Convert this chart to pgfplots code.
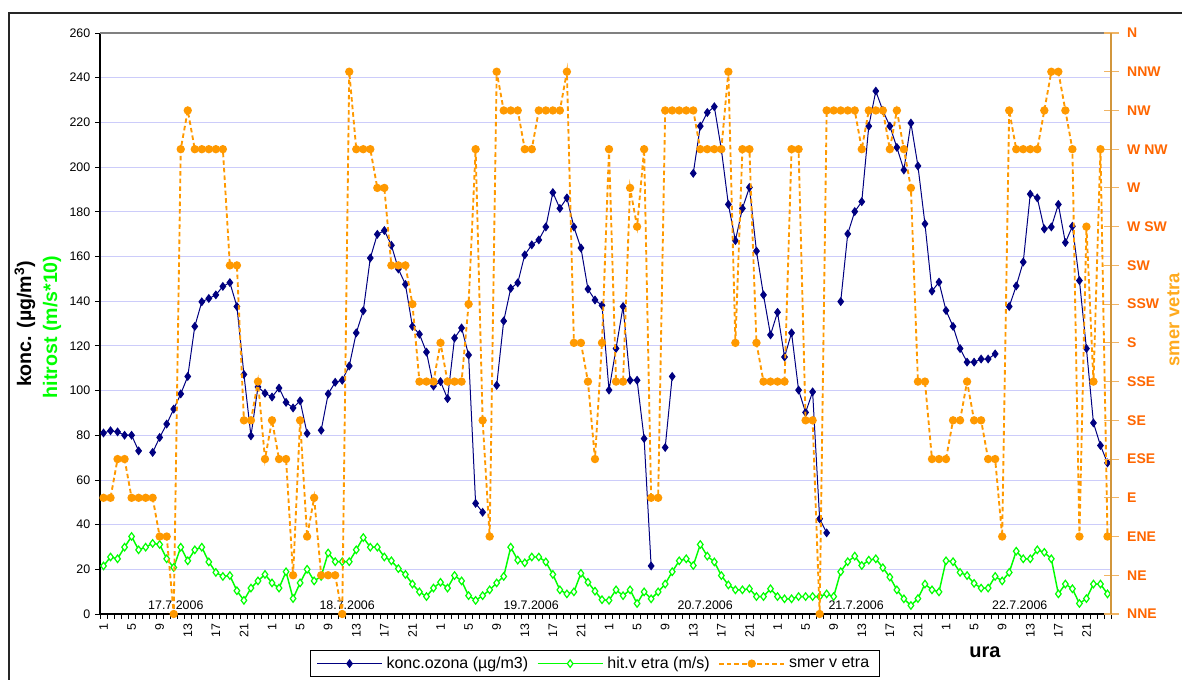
\documentclass[border=0pt]{standalone}
\usepackage{fontspec}
\setmainfont{Liberation Sans}
\usepackage{pgfplots}
\usepackage{pgfplotstable}
\pgfplotsset{compat=1.18}

\definecolor{ozblue}{RGB}{0,0,128}
\definecolor{vgreen}{RGB}{0,255,0}
\definecolor{dorange}{RGB}{255,153,0}
\definecolor{gridblue}{RGB}{204,204,250}
\definecolor{rightaxis}{RGB}{210,150,60}
\definecolor{ticklight}{RGB}{240,180,100}
\definecolor{dirlabel}{RGB}{255,102,0}
\definecolor{dirtitle}{RGB}{255,170,30}

\newcommand\ticksize{\fontsize{9.3}{11}\selectfont}

% hourly measurements 17.7.2006 - 22.7.2006
% i = hour index, oz = ozone (ug/m3), hv = wind speed (m/s*10),
% dir = wind direction (0 = NNE ... 15 = N)
\pgfplotstableread{
i oz hv dir
1 81 21.5 3
2 82 25.5 3
3 81.5 24.7 4
4 80 29.9 4
5 80 34.7 3
6 73 28.7 3
7 nan 29.9 3
8 72.3 31.6 3
9 79 31.1 2
10 85 24.7 2
11 91.7 20.8 0
12 98.5 29.9 12
13 106.3 23.8 13
14 128.7 28.7 12
15 139.7 29.9 12
16 141.2 23.3 12
17 142.8 18.6 12
18 146.6 16.8 12
19 148.3 17.2 9
20 137.6 10.4 9
21 107.2 6.1 5
22 79.7 11.6 5
23 101.6 14.8 6
24 98.8 17.7 4
25 97.1 13.9 5
26 101.1 11.6 4
27 94.7 18.9 4
28 92.2 6.9 1
29 95.4 13.9 5
30 80.8 20.0 2
31 nan 14.8 3
32 82.2 16.8 1
33 98.5 27.3 1
34 103.7 23.4 1
35 104.6 23.4 0
36 111.0 23.4 14
37 125.8 28.7 12
38 135.7 34.2 12
39 159.3 29.9 12
40 169.9 29.9 11
41 171.6 25.5 11
42 165.0 23.8 9
43 154.4 20.3 9
44 147.5 17.7 9
45 128.7 13.4 8
46 125.2 9.9 6
47 117.2 7.8 6
48 102.0 11.6 6
49 104.0 14.2 7
50 96.4 11.6 6
51 123.5 17.2 6
52 128.0 14.8 6
53 115.9 8.2 8
54 49.5 6.1 12
55 45.5 8.2 5
56 nan 10.8 2
57 102.3 13.9 14
58 131.1 16.8 13
59 145.7 29.9 13
60 148.2 24.1 13
61 160.7 22.9 12
62 165.2 25.5 12
63 167.4 25.5 13
64 173.2 23.3 13
65 188.6 17.7 13
66 181.5 10.8 13
67 186.2 9.0 14
68 173.2 9.9 7
69 163.8 18.2 7
70 145.4 14.2 6
71 140.5 10.2 4
72 138.1 6.4 7
73 100.2 6.1 12
74 118.8 10.8 6
75 137.6 8.2 6
76 104.6 10.8 11
77 104.6 4.7 10
78 78.5 9.9 12
79 21.5 6.8 3
80 nan 9.9 3
81 74.5 13.4 13
82 106.3 18.9 13
83 nan 23.8 13
84 nan 24.7 13
85 197.2 21.7 13
86 218.3 31.1 12
87 224.4 25.9 12
88 227.0 23.3 12
89 207.9 17.2 12
90 183.3 13.0 14
91 167.1 10.8 7
92 181.5 10.8 12
93 190.9 11.3 12
94 162.4 7.8 7
95 142.8 7.8 6
96 124.9 11.3 6
97 135.0 7.8 6
98 115.0 6.8 6
99 125.8 6.8 12
100 100.2 7.8 12
101 90.2 7.8 5
102 99.4 7.8 5
103 42.6 7.8 0
104 36.3 9.0 13
105 nan 7.8 13
106 139.8 18.9 13
107 170.1 23.4 13
108 180.1 25.9 13
109 184.5 21.7 12
110 218.3 24.1 13
111 234.0 24.7 13
112 225.3 20.7 13
113 218.3 16.5 12
114 208.8 10.8 13
115 198.7 6.8 12
116 219.7 3.8 11
117 200.5 6.9 6
118 174.6 13.4 6
119 144.5 10.8 4
120 148.5 9.9 4
121 135.8 23.8 4
122 128.7 23.4 5
123 118.8 18.6 5
124 112.7 17.2 6
125 112.7 13.7 5
126 114.1 11.6 5
127 114.1 11.6 4
128 116.4 16.8 4
129 nan 14.8 2
130 137.6 18.6 13
131 146.8 28.1 12
132 157.5 24.7 12
133 187.9 24.7 12
134 186.2 28.7 12
135 172.3 27.6 13
136 173.2 24.7 14
137 183.3 9.0 14
138 166.2 13.4 13
139 173.5 11.3 12
140 149.2 4.7 2
141 118.8 6.9 10
142 85.5 13.4 6
143 75.4 13.4 12
144 67.6 9.0 2
}\meritve

\tikzset{daylabel/.style={anchor=base, font=\ticksize, inner sep=0pt}}

\pgfplotsset{
  ozone/.style={color=ozblue, line width=0.75pt, mark=diamond*, mark size=2.8pt,
    mark options={solid, fill=ozblue}},
  wind/.style={color=vgreen, line width=1.1pt, mark=diamond*, mark size=2.8pt,
    mark options={solid, fill=white, line width=0.9pt}},
  direction/.style={color=dorange, line width=1.4pt, dash pattern=on 3.4pt off 2.3pt,
    mark=*, mark size=2.4pt, mark options={solid, fill=dorange}},
  longlegend/.style={legend image code/.code={%
    \draw[mark repeat=2, mark phase=2, ##1] plot coordinates {(0pt,0pt) (24.4pt,0pt) (48.75pt,0pt)};}},
  panel/.style={at={(75pt,49.5pt)}, anchor=south west, scale only axis,
    width=758.25pt, height=435.75pt, xmin=0.5, xmax=144.5, clip=false},
}

\begin{document}
\begin{tikzpicture}
\useasboundingbox (0,0) rectangle (886.5pt,510pt);
% outer chart frame
\draw[line width=1.1pt, black!85] (6.75pt,-20pt) -- (6.75pt,500.25pt) -- (900pt,500.25pt);

% ozone and wind speed (left axis)
\begin{axis}[panel,
  ymin=0, ymax=260,
  axis x line*=bottom, axis y line*=left,
  axis line style={black, line width=0.8pt, -},
  ytick={0,20,...,260},
  ymajorgrids, grid style={color=gridblue, line width=0.6pt},
  tick align=outside,
  major tick length=3.75pt, minor tick length=3.75pt,
  xtick={1,5,...,141},
  minor xtick={0.5,1.5,...,144.5},
  major x tick style={draw=none},
  minor x tick style={black, line width=0.6pt},
  ytick style={black, line width=0.6pt},
  xticklabel={\pgfmathparse{int(mod(\tick-1,24)+1)}\pgfmathresult},
  x tick label style={rotate=90, anchor=east, font=\ticksize},
  y tick label style={font=\ticksize},
  /pgf/number format/assume math mode=true,
  unbounded coords=jump,
]
\draw[color=gray, line width=0.8pt] (rel axis cs:0,1) -- (rel axis cs:1,1);
\addplot[ozone] table[x=i, y=oz] {\meritve};
\addplot[wind] table[x=i, y=hv] {\meritve};
\node[daylabel] at (axis cs:11.3,2) {17.7.2006};
\node[daylabel] at (axis cs:35.7,2) {18.7.2006};
\node[daylabel] at (axis cs:61.9,2) {19.7.2006};
\node[daylabel] at (axis cs:86.7,2) {20.7.2006};
\node[daylabel] at (axis cs:108.2,2) {21.7.2006};
\node[daylabel] at (axis cs:131.5,2) {22.7.2006};
\end{axis}

% wind direction (right axis)
\begin{axis}[panel,
  ymin=0, ymax=15,
  hide x axis,
  axis y line*=right,
  y axis line style={color=rightaxis, line width=1pt, -},
  ytick={0,...,15},
  yticklabels={NNE,NE,ENE,E,ESE,SE,SSE,S,SSW,SW,W SW,W,W NW,NW,NNW,N},
  ytick align=center, major tick length=11.25pt,
  ytick style={color=ticklight, line width=0.8pt},
  y tick label style={font=\bfseries\fontsize{10.5}{12}\selectfont, color=dirlabel,
    anchor=west, xshift=3pt},
  legend columns=3,
  legend style={at={(0.2077,-0.062)}, anchor=north west, draw=black, line width=0.8pt,
    fill=white, font=\fontsize{12}{14}\selectfont,
    inner xsep=4.5pt, inner ysep=2pt,
    nodes={inner xsep=3pt, inner ysep=2.7pt},
    /tikz/every even column/.append style={column sep=3.5pt}},
]
\addlegendimage{ozone, longlegend}
\addlegendentry{konc.ozona (µg/m3)}
\addlegendimage{wind, longlegend}
\addlegendentry{hit.v etra (m/s)}
\addplot[direction, longlegend] table[x=i, y=dir] {\meritve};
\addlegendentry{smer v etra}
\end{axis}

% axis titles
\node[rotate=90, font=\bfseries\fontsize{14.7}{16}\selectfont] at (18.75pt,267pt) {konc. (µg/m\textsuperscript{3})};
\node[rotate=90, font=\bfseries\fontsize{14.7}{16}\selectfont, color=vgreen] at (39pt,264.75pt) {hitrost (m/s*10)};
\node[font=\bfseries\fontsize{15}{17}\selectfont] at (738.75pt,21pt) {ura};
\node[rotate=90, anchor=base, inner sep=0pt, font=\bfseries\fontsize{13.8}{16}\selectfont, color=dirtitle] at (884.6pt,270pt) {smer vetra};
\end{tikzpicture}
\end{document}
